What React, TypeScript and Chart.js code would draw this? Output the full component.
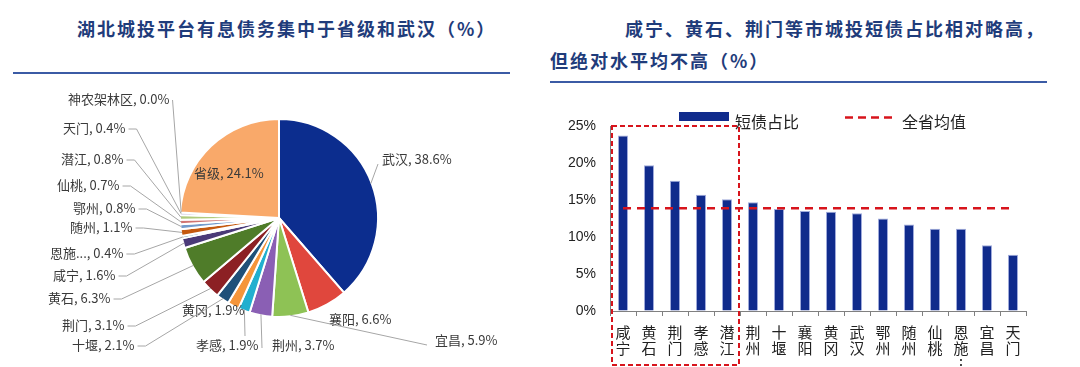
import React, { useEffect, useRef } from 'react';
import { Chart, registerables } from 'chart.js';

Chart.register(...registerables);

// ---------- Data: pie (clockwise from 12 o'clock) ----------
const pieNames = ['武汉', '襄阳', '宜昌', '荆州', '孝感', '黄冈', '十堰', '荆门', '黄石', '咸宁', '恩施...', '随州', '鄂州', '仙桃', '潜江', '天门', '神农架林区', '省级'];
const pieValues = [38.6, 6.6, 5.9, 3.7, 1.9, 1.9, 2.1, 3.1, 6.3, 1.6, 0.4, 1.1, 0.8, 0.7, 0.8, 0.4, 0.0, 24.1];
const pieColors = ['#0C2D8E', '#E0473D', '#8EC255', '#8A5FB4', '#22AFCF', '#F5953A', '#1F5079', '#8C2024', '#4F7C29', '#4A3A78', '#2A6C80', '#C4590F', '#739BCC', '#D07472', '#B0CB7C', '#9A85B7', '#72BED2', '#F9A96A'];

// ---------- Data: bars ----------
const barCategories = ['咸宁', '黄石', '荆门', '孝感', '潜江', '荆州', '十堰', '襄阳', '黄冈', '武汉', '鄂州', '随州', '仙桃', '恩施…', '宜昌', '天门'];
const shortDebtShare = [23.7, 19.7, 17.6, 15.7, 15.1, 14.7, 13.8, 13.5, 13.4, 13.2, 12.5, 11.7, 11.1, 11.1, 8.9, 7.6];
const provinceAverage = [13.9, 13.9, 13.9, 13.9, 13.9, 13.9, 13.9, 13.9, 13.9, 13.9, 13.9, 13.9, 13.9, 13.9, 13.9, 13.9];
const yMin = 0;
const yMax = 25;
const yStep = 5;
const highlightCount = 5;

// ---------- Layout (label placement relative to pie centre) ----------
type LabelLayout = { dx: number; dy: number; line: 'none' | 'start' | 'end'; ox?: number; oy?: number; stub?: number };
const pieLabelLayout: LabelLayout[] = [
  { dx: 103, dy: -59, line: 'start', ox: -4, oy: 5 },
  { dx: 50, dy: 101, line: 'none' },
  { dx: 156, dy: 122, line: 'start', ox: -8, oy: 5 },
  { dx: -7, dy: 127, line: 'start', ox: -10, oy: 3 },
  { dx: -83, dy: 127, line: 'start', ox: 49, oy: -9 },
  { dx: -97, dy: 92, line: 'none' },
  { dx: -207, dy: 127, line: 'end' },
  { dx: -217, dy: 107, line: 'end' },
  { dx: -231, dy: 80, line: 'end' },
  { dx: -226, dy: 57, line: 'end' },
  { dx: -229, dy: 35, line: 'end' },
  { dx: -209, dy: 9, line: 'end' },
  { dx: -206, dy: -10, line: 'end' },
  { dx: -222, dy: -33, line: 'end' },
  { dx: -218, dy: -59, line: 'end' },
  { dx: -216, dy: -90, line: 'end' },
  { dx: -211, dy: -119, line: 'end', stub: 0 },
  { dx: -85, dy: -45, line: 'none' },
];

const CJK = '"Noto Sans CJK SC", "Noto Sans", sans-serif';
const TITLE_COLOR = '#1F3C7B';
const BAR_COLOR = '#102B8C';
const RED = '#D7141C';

const pieLabelPlugin = {
  id: 'pieLabels',
  afterDatasetsDraw(chart: any) {
    const ctx = chart.ctx;
    const meta = chart.getDatasetMeta(0);
    ctx.save();
    ctx.font = `13px ${CJK}`;
    ctx.textBaseline = 'middle';
    ctx.textAlign = 'left';
    meta.data.forEach((arc: any, i: number) => {
      const p = arc.getProps(['x', 'y', 'startAngle', 'endAngle', 'outerRadius'], true);
      const lay = pieLabelLayout[i];
      const text = `${pieNames[i]}, ${pieValues[i].toFixed(1)}%`;
      const tx = p.x + lay.dx;
      const ty = p.y + lay.dy;
      const w = ctx.measureText(text).width;
      const mid = (p.startAngle + p.endAngle) / 2;
      const ax = p.x + Math.cos(mid) * (p.outerRadius - 1);
      const ay = p.y + Math.sin(mid) * (p.outerRadius - 1);
      if (lay.line !== 'none') {
        ctx.strokeStyle = '#A6A6A6';
        ctx.lineWidth = 1;
        ctx.beginPath();
        if (lay.line === 'end') {
          const stub = lay.stub === undefined ? 8 : lay.stub;
          const sx = tx + w + 3;
          const sy = ty + 1;
          ctx.moveTo(sx, sy);
          if (stub > 0) ctx.lineTo(sx + stub, sy);
          ctx.lineTo(ax, ay);
        } else {
          ctx.moveTo(tx + (lay.ox || 0), ty + (lay.oy || 0));
          ctx.lineTo(ax, ay);
        }
        ctx.stroke();
      }
      ctx.fillStyle = '#3A3A3A';
      ctx.fillText(text, tx, ty);
    });
    ctx.restore();
  },
};

const highlightBoxPlugin = {
  id: 'highlightBox',
  afterDraw(chart: any) {
    const x = chart.scales.x;
    const y = chart.scales.y;
    const step = x.getPixelForValue(1) - x.getPixelForValue(0);
    const left = x.getPixelForValue(0) - step / 2 + 2;
    const right = x.getPixelForValue(highlightCount - 1) + step / 2 - 1;
    const top = y.getPixelForValue(yMax);
    const bottom = chart.height - 2;
    const ctx = chart.ctx;
    ctx.save();
    ctx.strokeStyle = RED;
    ctx.lineWidth = 2;
    ctx.setLineDash([5, 3]);
    ctx.strokeRect(left, top, right - left, bottom - top);
    ctx.restore();
  },
};

function PieChart() {
  const ref = useRef<HTMLCanvasElement>(null);
  useEffect(() => {
    if (!ref.current) return;
    const chart = new Chart(ref.current, {
      type: 'pie',
      data: {
        labels: pieNames,
        datasets: [{ data: pieValues, backgroundColor: pieColors, borderColor: '#ffffff', borderWidth: 2 }],
      },
      options: {
        responsive: false,
        animation: false,
        layout: { padding: { left: 179, right: 161, top: 33, bottom: 49 } },
        plugins: { legend: { display: false }, tooltip: { enabled: false } },
      },
      plugins: [pieLabelPlugin],
    } as any);
    return () => chart.destroy();
  }, []);
  return <canvas ref={ref} width={540} height={282} style={{ display: 'block' }} />;
}

function BarChart() {
  const ref = useRef<HTMLCanvasElement>(null);
  useEffect(() => {
    if (!ref.current) return;
    const chart = new Chart(ref.current, {
      type: 'bar',
      data: {
        labels: barCategories,
        datasets: [
          {
            type: 'line',
            label: '全省均值',
            data: provinceAverage,
            borderColor: RED,
            borderWidth: 2.5,
            borderDash: [8, 6],
            pointRadius: 0,
            fill: false,
            order: 0,
          },
          {
            type: 'bar',
            label: '短债占比',
            data: shortDebtShare,
            backgroundColor: BAR_COLOR,
            borderColor: 'rgba(150,162,215,0.9)',
            borderWidth: 1,
            barPercentage: 0.385,
            categoryPercentage: 1,
            order: 1,
          },
        ],
      },
      options: {
        responsive: false,
        animation: false,
        layout: { padding: { left: 0, right: 54, top: 41, bottom: 0 } },
        plugins: { legend: { display: false }, tooltip: { enabled: false } },
        scales: {
          x: {
            grid: { display: true, drawOnChartArea: false, drawTicks: true, tickLength: 5, color: '#808080', offset: true },
            border: { display: true, color: '#808080', width: 1 },
            ticks: {
              autoSkip: false,
              maxRotation: 0,
              minRotation: 0,
              padding: 8,
              color: '#222222',
              font: { family: CJK, size: 15, lineHeight: 1.1 },
              callback: (_v: any, i: number) => Array.from(barCategories[i]).map((c) => (c === '…' ? '︙' : c)),
            },
            afterFit: (s: any) => {
              s.height = 56;
            },
          },
          y: {
            min: yMin,
            max: yMax,
            grid: { display: true, drawOnChartArea: false, drawTicks: false },
            border: { display: true, color: '#808080', width: 1 },
            ticks: {
              stepSize: yStep,
              padding: 14,
              color: '#222222',
              font: { family: '"Liberation Sans", Arial, sans-serif', size: 14 },
              callback: (v: any) => `${v}%`,
            },
            afterFit: (s: any) => {
              s.width = 70;
            },
          },
        },
      },
      plugins: [highlightBoxPlugin],
    } as any);
    return () => chart.destroy();
  }, []);
  return <canvas ref={ref} width={540} height={282} style={{ display: 'block' }} />;
}

const titleStyle: React.CSSProperties = {
  position: 'absolute',
  fontFamily: CJK,
  fontWeight: 700,
  fontSize: 18,
  lineHeight: '32px',
  letterSpacing: '2px',
  color: TITLE_COLOR,
  whiteSpace: 'nowrap',
};

const legendText: React.CSSProperties = {
  position: 'absolute',
  fontFamily: CJK,
  fontSize: 16,
  lineHeight: '20px',
  color: '#222222',
  whiteSpace: 'nowrap',
};

export default function App() {
  return (
    <div style={{ position: 'absolute', left: 0, top: 0, width: 1080, height: 367, background: '#ffffff', overflow: 'hidden' }}>
      <div style={{ ...titleStyle, left: 77, top: 12 }}>湖北城投平台有息债务集中于省级和武汉（%）</div>
      <div style={{ position: 'absolute', left: 13, top: 72, width: 497, height: 2, background: '#3B5BA5' }} />
      <div style={{ ...titleStyle, left: 625, top: 12 }}>咸宁、黄石、荆门等市城投短债占比相对略高，</div>
      <div style={{ ...titleStyle, left: 550, top: 44 }}>但绝对水平均不高（%）</div>
      <div style={{ position: 'absolute', left: 550, top: 81, width: 497, height: 2, background: '#3B5BA5' }} />

      <div style={{ position: 'absolute', left: 0, top: 85 }}>
        <PieChart />
      </div>
      <div style={{ position: 'absolute', left: 540, top: 85 }}>
        <BarChart />
      </div>

      <div style={{ position: 'absolute', left: 679, top: 112, width: 50, height: 9, background: BAR_COLOR }} />
      <div style={{ ...legendText, left: 735, top: 111 }}>短债占比</div>
      <svg style={{ position: 'absolute', left: 845, top: 115 }} width={50} height={5}>
        <line x1={0} y1={2.5} x2={50} y2={2.5} stroke={RED} strokeWidth={2.5} strokeDasharray="8,5" />
      </svg>
      <div style={{ ...legendText, left: 902, top: 111 }}>全省均值</div>
    </div>
  );
}
